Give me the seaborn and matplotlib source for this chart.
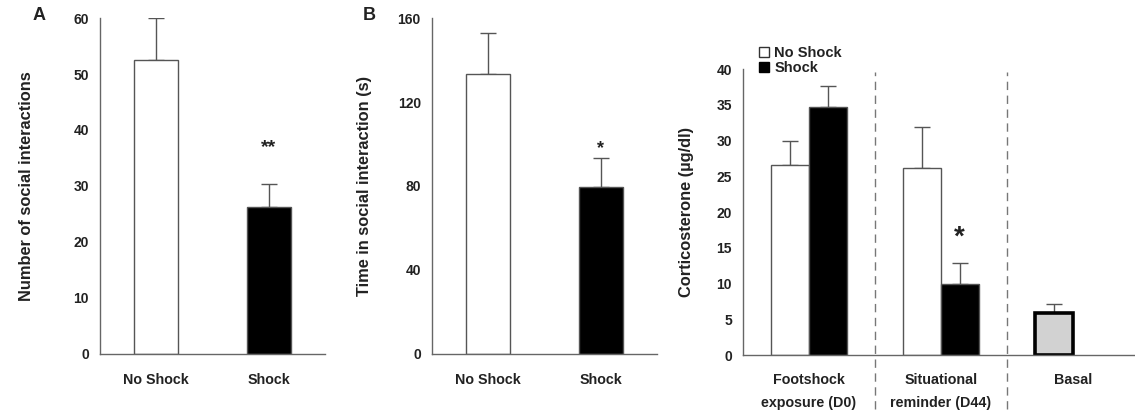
import numpy as np
import pandas as pd
import matplotlib
matplotlib.use("Agg")
import matplotlib.pyplot as plt
import seaborn as sns
from matplotlib.lines import Line2D

# ---------------- data ----------------
conditions = ["No Shock", "Shock"]
a_values = [52.5, 26.3]
a_errors = [7.5, 4.0]
b_values = [133.5, 79.5]
b_errors = [19.5, 14.0]

c_groups = ["Footshock\nexposure (D0)", "Situational\nreminder (D44)", "Basal"]
c_noshock = [26.6, 26.1, 5.9]
c_noshock_err = [3.3, 5.8, 1.2]
c_shock = [34.7, 9.9, np.nan]
c_shock_err = [2.9, 2.9, np.nan]

a_ticks = [0, 10, 20, 30, 40, 50, 60]
b_ticks = [0, 40, 80, 120, 160]
c_ticks = [0, 5, 10, 15, 20, 25, 30, 35, 40]

# ---------------- style ----------------
sns.set_theme(style="white")
plt.rcParams["font.family"] = ["Liberation Sans", "DejaVu Sans"]
plt.rcParams["font.weight"] = "bold"
plt.rcParams["axes.labelweight"] = "bold"

SPINE = "#666666"
EDGE = "#555555"
TXT = "#222222"
FS_Y = 10        # y tick labels
FS_X = 10.3      # x tick labels
FS_LAB = 11.8    # axis labels

fig = plt.figure(figsize=(11.35, 4.12), dpi=100)
axA = fig.add_axes([0.0881, 0.1408, 0.1982, 0.8155])
axB = fig.add_axes([0.3806, 0.1408, 0.1982, 0.8155])
axC = fig.add_axes([0.6546, 0.1383, 0.3454, 0.6942])


def style_axes(ax):
    sns.despine(ax=ax)
    for s in ("left", "bottom"):
        ax.spines[s].set_color(SPINE)
        ax.spines[s].set_linewidth(1.0)
    ax.tick_params(axis="y", which="major", direction="out", length=4, width=1,
                   color=SPINE, labelsize=FS_Y, labelcolor=TXT, pad=4)
    ax.tick_params(axis="x", which="major", length=0, labelsize=FS_X, labelcolor=TXT)
    ax.tick_params(axis="x", which="minor", direction="out", length=4, width=1,
                   color=SPINE)


def add_errorbars(ax, values, errors):
    lookup = {round(v, 3): e for v, e in zip(values, errors) if np.isfinite(v)}
    for p in ax.patches:
        h = p.get_height()
        if not np.isfinite(h) or h <= 0:
            continue
        e = lookup.get(round(h, 3))
        if e is None:
            continue
        xc = p.get_x() + p.get_width() / 2
        ax.errorbar([xc], [h], yerr=[[0], [e]], fmt="none", ecolor=EDGE,
                    elinewidth=1.0, capsize=5.5, capthick=1.0, zorder=1)


def simple_panel(ax, values, errors, ticks, ylabel, label_x):
    df = pd.DataFrame({"cond": conditions, "val": values})
    sns.barplot(data=df, x="cond", y="val", hue="cond",
                palette={"No Shock": "white", "Shock": "black"},
                edgecolor=EDGE, linewidth=1.0, width=0.39, legend=False,
                ax=ax, zorder=2)
    add_errorbars(ax, values, errors)
    ax.set_xlim(-0.5, 1.5)
    ax.set_ylim(ticks[0], ticks[-1])
    ax.set_yticks(ticks)
    ax.set_xticks([-0.5, 0.5, 1.5], minor=True)
    ax.set_xlabel("")
    ax.set_ylabel(ylabel, fontsize=FS_LAB, color=TXT)
    ax.yaxis.set_label_coords(label_x, 0.5)
    style_axes(ax)
    ax.tick_params(axis="x", which="major", pad=14)
    for t in ax.get_xticklabels() + ax.get_yticklabels():
        t.set_fontweight("bold")


simple_panel(axA, a_values, a_errors, a_ticks,
             "Number of social interactions", -0.293)
simple_panel(axB, b_values, b_errors, b_ticks,
             "Time in social interaction (s)", -0.267)

axA.text(1, 35.3, "**", ha="center", va="bottom", fontsize=14, color=TXT)
axB.text(1, 94.0, "*", ha="center", va="bottom", fontsize=13, color=TXT)

fig.text(0.029, 0.963, "A", fontsize=13, fontweight="bold", color=TXT,
         ha="left", va="center")
fig.text(0.320, 0.963, "B", fontsize=13, fontweight="bold", color=TXT,
         ha="left", va="center")

# ---------------- panel C ----------------
rows = []
for g, v in zip(c_groups, c_noshock):
    rows.append({"group": g, "cond": "No Shock", "val": v})
for g, v in zip(c_groups, c_shock):
    rows.append({"group": g, "cond": "Shock", "val": v})
dfc = pd.DataFrame(rows)

sns.barplot(data=dfc, x="group", y="val", hue="cond", order=c_groups,
            hue_order=conditions,
            palette={"No Shock": "white", "Shock": "black"},
            edgecolor=EDGE, linewidth=1.0, width=0.57, legend=False,
            ax=axC, zorder=2)

# basal bar: grey with thick black outline
for p in axC.patches:
    xc = p.get_x() + p.get_width() / 2
    if xc > 1.6 and np.isfinite(p.get_height()) and p.get_height() > 0:
        p.set_facecolor("#d2d2d2")
        p.set_edgecolor("black")
        p.set_linewidth(2.6)

add_errorbars(axC, c_noshock + c_shock, c_noshock_err + c_shock_err)

axC.set_xlim(-0.5, 2.47)
axC.set_ylim(0, 40)
axC.set_yticks(c_ticks)
axC.set_xticks(range(len(c_groups)))
axC.set_xticklabels(c_groups, linespacing=1.78, fontweight="bold")
axC.set_xticks([-0.5, 0.5, 1.5], minor=True)
axC.set_xlabel("")
axC.set_ylabel("Corticosterone (µg/dl)", fontsize=FS_LAB, color=TXT)
axC.yaxis.set_label_coords(-0.125, 0.5)
style_axes(axC)
axC.tick_params(axis="x", which="major", pad=13)
for t in axC.get_yticklabels():
    t.set_fontweight("bold")

for xv in (0.5, 1.5):
    axC.axvline(xv, ymin=-0.19, ymax=0.99, color="#777777", lw=1.0,
                ls=(0, (6, 4)), clip_on=False, zorder=0)

# star above situational shock bar
for p in axC.patches:
    xc = p.get_x() + p.get_width() / 2
    if 1.05 < xc < 1.25 and np.isfinite(p.get_height()):
        axC.text(xc, 14.6, "*", ha="center", va="bottom", fontsize=20,
                 color=TXT)

handles = [
    Line2D([0], [0], marker="s", ls="none", markersize=7.5,
           markerfacecolor="white", markeredgecolor="#333333", markeredgewidth=1),
    Line2D([0], [0], marker="s", ls="none", markersize=7.5,
           markerfacecolor="black", markeredgecolor="black"),
]
leg = axC.legend(handles, conditions, loc="upper left",
                 bbox_to_anchor=(0.02, 1.105), frameon=False,
                 handlelength=0.8, handletextpad=0.3, labelspacing=0.08,
                 borderpad=0, prop={"size": 10.5, "weight": "bold"})
for t in leg.get_texts():
    t.set_color(TXT)

fig.savefig("out.png", dpi=100, facecolor="white")
